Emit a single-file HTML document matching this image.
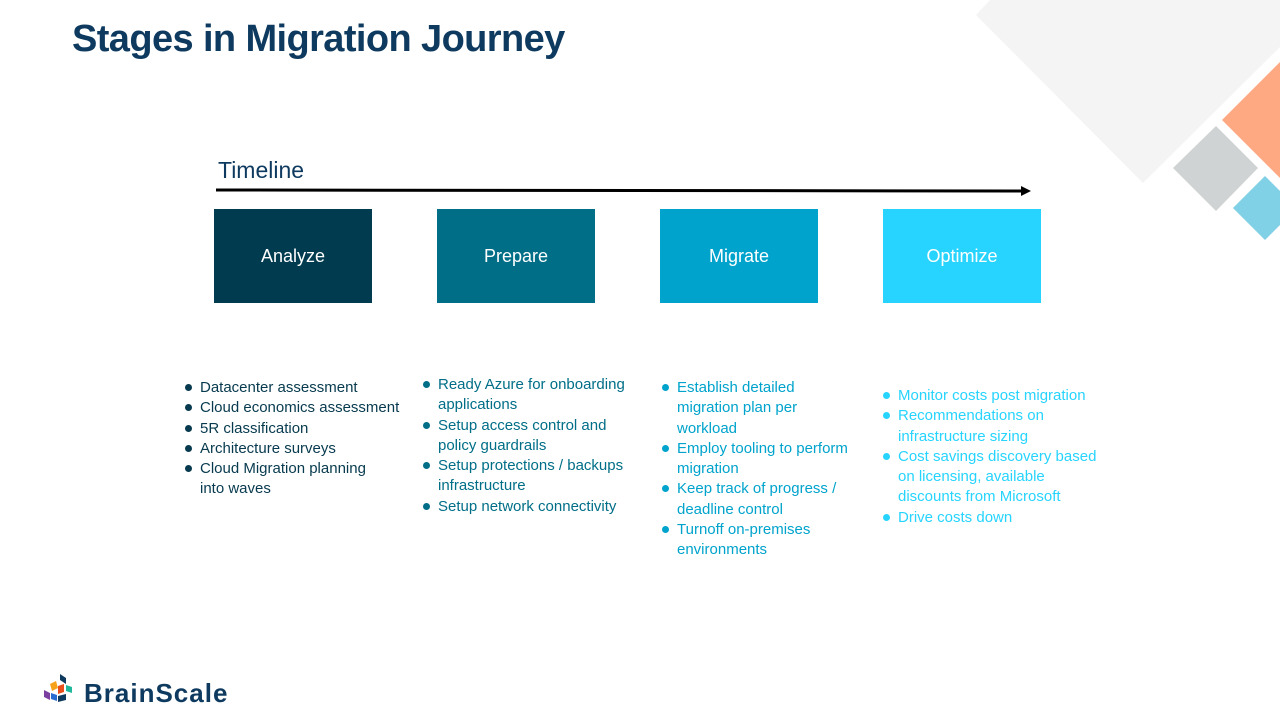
<!DOCTYPE html>
<html><head><meta charset="utf-8"><style>
body{margin:0;width:1280px;height:720px;position:relative;background:#fff;font-family:"Liberation Sans",sans-serif;overflow:hidden}
.t{position:absolute;left:72px;top:18px;font-size:38px;font-weight:bold;color:#0e3a5f;letter-spacing:-0.6px}
.box{position:absolute;top:209px;width:158px;height:94px;color:#fff;font-size:18px;display:flex;align-items:center;justify-content:center}
ul{position:absolute;margin:0;padding:0;list-style:none;font-size:15px;line-height:20.3px}
li{position:relative;padding-left:15px;white-space:nowrap}
li:before{content:"";position:absolute;left:0;top:6px;width:7px;height:7px;border-radius:50%;background:currentColor}
</style></head><body>
<svg width="1280" height="720" style="position:absolute;left:0;top:0">
<polygon points="990,0 1280,0 1280,47 1143,183 976,15" fill="#f4f4f4"/>
<polygon points="1222,120 1280,62 1280,178" fill="#ffa982"/>
<polygon points="1173,168 1216,126 1258,168 1216,211" fill="#d0d3d4"/>
<polygon points="1233,208 1265,176 1280,191 1280,225 1265,240" fill="#80d0e6"/>
<line x1="216" y1="190" x2="1022" y2="191" stroke="#000" stroke-width="3"/>
<polygon points="1021,186 1031,191 1021,196" fill="#000"/>
<g transform="translate(44,674)">
<polygon points="16,0 22,4 22,10 16,6" fill="#0e3a5f"/>
<polygon points="6,10 12,7 14,14 8,17" fill="#f7a21b"/>
<polygon points="14,12 20,10 20,18 14,20" fill="#e94e1b"/>
<polygon points="22,11 28,13 28,19 22,17" fill="#20b89a"/>
<polygon points="0,16 6,19 6,26 0,23" fill="#7b3fa0"/>
<polygon points="7,19 13,21 13,27 7,25" fill="#2b6cd1"/>
<polygon points="14,22 22,20 22,26 14,28" fill="#0e3a5f"/>
</g>
</svg>
<div class="t">Stages in Migration Journey</div>
<div style="position:absolute;left:218px;top:157px;font-size:23px;color:#0e3a5f">Timeline</div>
<div style="position:absolute;left:84px;top:678px;font-size:26px;font-weight:bold;color:#0e3a5f;letter-spacing:1px">BrainScale</div>
<div class="box" style="left:214px;background:#003b4f">Analyze</div>
<div class="box" style="left:437px;background:#006e87">Prepare</div>
<div class="box" style="left:660px;background:#00a3cc">Migrate</div>
<div class="box" style="left:883px;background:#26d4ff">Optimize</div>
<ul style="left:185px;top:378px;color:#073a4e">
<li>Datacenter assessment</li><li>Cloud economics assessment</li><li>5R classification</li><li>Architecture surveys</li><li>Cloud Migration planning<br>into waves</li></ul>
<ul style="left:423px;top:375px;color:#006e87">
<li>Ready Azure for onboarding<br>applications</li><li>Setup access control and<br>policy guardrails</li><li>Setup protections / backups<br>infrastructure</li><li>Setup network connectivity</li></ul>
<ul style="left:662px;top:378px;color:#00a3cc">
<li>Establish detailed<br>migration plan per<br>workload</li><li>Employ tooling to perform<br>migration</li><li>Keep track of progress /<br>deadline control</li><li>Turnoff on-premises<br>environments</li></ul>
<ul style="left:883px;top:386px;color:#26d4ff">
<li>Monitor costs post migration</li><li>Recommendations on<br>infrastructure sizing</li><li>Cost savings discovery based<br>on licensing, available<br>discounts from Microsoft</li><li>Drive costs down</li></ul>
</body></html>
